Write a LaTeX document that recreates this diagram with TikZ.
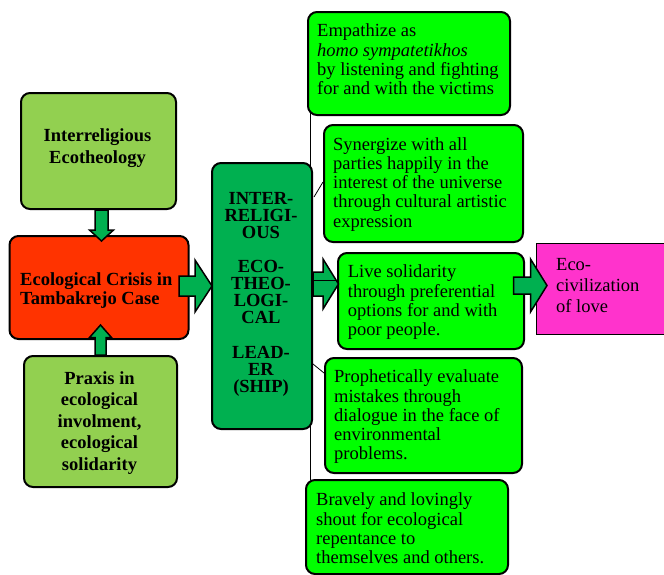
\documentclass[tikz,border=0pt]{standalone}
\usepackage{fontspec}
\setmainfont{Liberation Serif}
\usetikzlibrary{calc}

\definecolor{leafgreen}{RGB}{146,208,80}
\definecolor{crisisred}{RGB}{255,51,0}
\definecolor{leadgreen}{RGB}{0,176,80}
\definecolor{actgreen}{RGB}{0,255,0}
\definecolor{lovepink}{RGB}{255,51,204}

% invisible strut so that a text node's top sits 17pt above its first baseline
\newcommand\firstline{\rule{0pt}{17pt}}

% block arrow: #1 base point, #2 direction angle, #3 length,
% #4 shaft half-width, #5 head half-width, #6 head length
\newcommand\blockarrow[6]{%
  \draw[blockarrowstyle, shift={#1}, rotate=#2]
    (0,-#4) -- ({#3-#6},-#4) -- ({#3-#6},-#5) -- (#3,0)
    -- ({#3-#6},#5) -- ({#3-#6},#4) -- (0,#4) -- cycle;}

\begin{document}
\begin{tikzpicture}[x=1pt,y=-1pt,
  box/.style={draw=black, line width=2pt, rounded corners=9pt, inner sep=0pt, anchor=north west},
  txt/.style={inner sep=0pt, anchor=north west, align=left,
    font=\fontsize{18.5}{19.2}\selectfont},
  boldtxt/.style={inner sep=0pt, anchor=north, align=center},
  link/.style={draw=black, line width=0.8pt},
  blockarrowstyle/.style={draw=black, line width=1.5pt, fill=leadgreen, line join=miter},
]
\useasboundingbox (0,0) rectangle (664,574);

% spine joining the action boxes
\coordinate (spinetop) at (310,113);
\coordinate (spinebottom) at (310,480);
\draw[link] (spinetop) -- (spinebottom);

% left column
\node[box, fill=leafgreen, minimum width=155pt, minimum height=116pt] (ecotheology) at (20,92) {};
\node[box, fill=crisisred, minimum width=179pt, minimum height=103pt] (crisis) at (8.5,235) {};
\node[box, fill=leafgreen, minimum width=153pt, minimum height=131pt] (praxis) at (23,355) {};

% leadership column
\node[box, fill=leadgreen, minimum width=100pt, minimum height=266pt] (leadership) at (211,162) {};

% action boxes
\node[box, fill=actgreen, minimum width=202pt, minimum height=103pt] (empathize) at (307,11) {};
\node[box, fill=actgreen, minimum width=199pt, minimum height=117pt] (synergize) at (323,124) {};
\node[box, fill=actgreen, minimum width=186pt, minimum height=96pt] (live) at (337,252) {};
\node[box, fill=actgreen, minimum width=197pt, minimum height=115pt] (prophet) at (324,357) {};
\node[box, fill=actgreen, minimum width=202pt, minimum height=94pt] (bravely) at (305,479) {};

% goal box
\node[draw=black, line width=1.3pt, fill=lovepink, inner sep=0pt, anchor=north west,
  minimum width=140pt, minimum height=91.5pt] (civilization) at (536,242.5) {};

% texts
\node[boldtxt, font=\bfseries\fontsize{18.5}{21.6}\selectfont] (ecotheology-text) at (97.5,124.7)
  {\firstline Interreligious\\Ecotheology};
\node[txt, font=\bfseries\fontsize{18.5}{19}\selectfont] (crisis-text) at (20,268)
  {\firstline Ecological Crisis in\\Tambakrejo Case};
\node[boldtxt, font=\bfseries\fontsize{18.5}{21.5}\selectfont] (praxis-text) at (99.5,367)
  {\firstline Praxis in\\ecological\\involment,\\ecological\\solidarity};
\node[boldtxt, font=\bfseries\fontsize{18.5}{17.06}\selectfont] (leadership-text) at (261,187.3)
  {\firstline INTER-\\RELIGI-\\OUS\\[17.06pt]ECO-\\THEO-\\LOGI-\\CAL\\[17.06pt]LEAD-\\ER\\(SHIP)};

\node[txt] (empathize-text) at (317,19.7)
  {\firstline Empathize as\\\textit{homo sympatetikhos}\\by listening and fighting\\for and with the victims};
\node[txt] (synergize-text) at (333,133)
  {\firstline Synergize with all\\parties happily in the\\interest of the universe\\through cultural artistic\\expression};
\begin{scope}
  \clip (live.north west) rectangle ($(live.south east)+(0,-11)$);
  \node[txt] (live-text) at (347.7,260.7)
    {\firstline Live solidarity\\through preferential\\options for and with\\poor people.};
\end{scope}
\begin{scope}
  \clip (prophet.north west) rectangle ($(prophet.south east)+(0,-11)$);
  \node[txt] (prophet-text) at (334,365.7)
    {\firstline Prophetically evaluate\\mistakes through\\dialogue in the face of\\environmental\\problems.};
\end{scope}
\node[txt] (bravely-text) at (316,488.7)
  {\firstline Bravely and lovingly\\shout for ecological\\repentance to\\themselves and others.};
\node[txt, font=\fontsize{18.5}{21}\selectfont] (civilization-text) at (556,253)
  {\firstline Eco-\\civilization\\of love};

% block arrows
\blockarrow{($(ecotheology.south)+(3,0)$)}{-90}{31}{6.5}{12}{11}
\blockarrow{(praxis.north)}{90}{30}{5.5}{11}{12.5}
\blockarrow{($(crisis.east)+(-10.5,-1.5)$)}{0}{33}{10}{26}{17}
\blockarrow{($(leadership.east)+(0,-12)$)}{0}{25.5}{12}{25}{15.5}
\blockarrow{($(live.east)+(-11.3,-15.5)$)}{0}{33.3}{8.5}{26.5}{16.5}

% thin links from the leadership box to the action boxes
\draw[link] ($(leadership.north east)+(1,35)$) -- ($(synergize.north west)+(0,58)$);
\draw[link] ($(leadership.north east)+(0,118)$) -- ($(live.north west)+(0,28)$);
\draw[link] ($(leadership.south east)+(0,-66)$) -- ($(prophet.north west)+(0,16)$);
\end{tikzpicture}
\end{document}
